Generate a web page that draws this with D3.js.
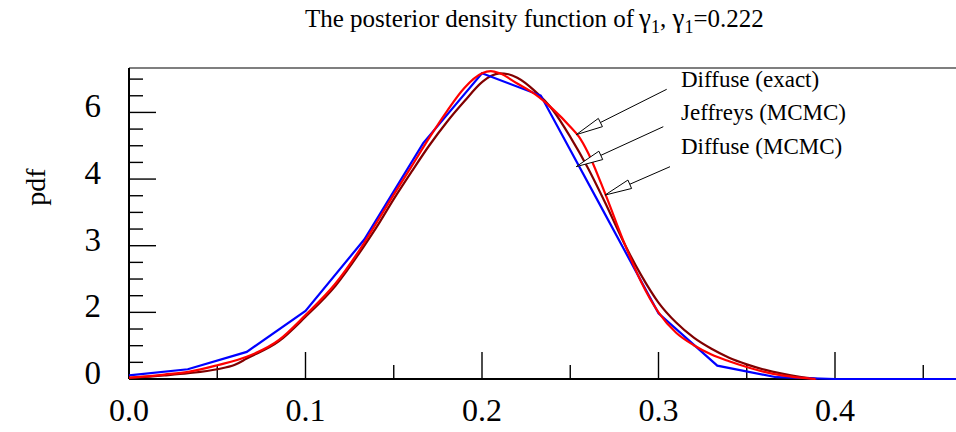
<!DOCTYPE html>
<html>
<head>
<meta charset="utf-8">
<script src="https://cdn.jsdelivr.net/npm/d3@7"></script>
<style>
  html, body { margin: 0; padding: 0; background: #fff; }
  svg { display: block; }
  text { font-family: "Liberation Serif", "Times New Roman", serif; fill: #000; }
</style>
</head>
<body>
<svg id="chart" width="956" height="432"></svg>
<script>
// ---- data ----
const xTickValues = [0, 0.1, 0.2, 0.3, 0.4];
const xTickLabels = ["0.0", "0.1", "0.2", "0.3", "0.4"];
const xMinorTicks = [0.05, 0.15, 0.25, 0.35, 0.45];
const yTickValues = [0, 1.5, 3, 4.5, 6];
const yTickLabels = ["0", "2", "3", "4", "6"];
const yMinorStep = 0.375;

const seriesNames = ["Diffuse (exact)", "Jeffreys (MCMC)", "Diffuse (MCMC)"];

// Diffuse (exact) - red
const redX = [0, 0.02, 0.0336, 0.05, 0.0667, 0.085, 0.1, 0.117, 0.133, 0.14, 0.15, 0.16, 0.17, 0.18, 0.19, 0.2, 0.205, 0.21, 0.22, 0.23, 0.24, 0.25, 0.255, 0.26, 0.27, 0.28, 0.29, 0.3, 0.31, 0.32, 0.33, 0.34, 0.35, 0.36, 0.37, 0.38, 0.389];
const redY = [0.03, 0.10, 0.16, 0.31, 0.50, 0.88, 1.44, 2.15, 3.05, 3.50, 4.15, 4.78, 5.42, 6.02, 6.55, 6.88, 6.93, 6.88, 6.65, 6.41, 6.08, 5.68, 5.45, 5.10, 4.15, 3.12, 2.20, 1.50, 1.04, 0.76, 0.55, 0.40, 0.27, 0.16, 0.08, 0.03, 0.0];

// Jeffreys (MCMC) - blue
const blueX = [0, 0.0333, 0.0667, 0.1, 0.1333, 0.1667, 0.2, 0.2333, 0.2667, 0.3, 0.3333, 0.3667, 0.4, 0.4333, 0.4667, 0.5];
const blueY = [0.08, 0.22, 0.61, 1.53, 3.14, 5.31, 6.88, 6.38, 3.93, 1.48, 0.30, 0.04, 0.0, 0.0, 0.0, 0.0];

// Diffuse (MCMC) - dark red
const brownX = [0, 0.02, 0.0336, 0.05, 0.06, 0.0667, 0.085, 0.1, 0.117, 0.133, 0.14, 0.15, 0.16, 0.17, 0.18, 0.19, 0.2, 0.205, 0.21, 0.215, 0.22, 0.23, 0.24, 0.25, 0.26, 0.27, 0.28, 0.29, 0.3, 0.31, 0.32, 0.33, 0.34, 0.35, 0.36, 0.37, 0.38, 0.39];
const brownY = [0.02, 0.08, 0.13, 0.22, 0.32, 0.46, 0.85, 1.40, 2.10, 2.98, 3.40, 4.05, 4.66, 5.25, 5.78, 6.25, 6.68, 6.82, 6.88, 6.86, 6.78, 6.48, 6.06, 5.45, 4.75, 3.95, 3.10, 2.35, 1.72, 1.27, 0.93, 0.68, 0.48, 0.33, 0.21, 0.12, 0.05, 0.0];

// ---- layout ----
const svg = d3.select("#chart");
const plotLeft = 129, plotTop = 68, plotBottom = 379;
const x = d3.scaleLinear().domain([0, 0.5]).range([plotLeft, plotLeft + 882.5]);
const y = d3.scaleLinear().domain([0, 7]).range([plotBottom, plotTop]);

const g = svg.append("g");

// frame top line
g.append("line").attr("x1", plotLeft).attr("x2", 956).attr("y1", plotTop).attr("y2", plotTop)
  .attr("stroke", "#000").attr("stroke-width", 1.2);

// y ticks (inward)
const yMinor = d3.range(0, 7 + 1e-9, yMinorStep).filter(v => !yTickValues.some(t => Math.abs(t - v) < 1e-9));
g.selectAll(".yminor").data(yMinor).enter().append("line")
  .attr("x1", plotLeft).attr("x2", plotLeft + 14)
  .attr("y1", d => y(d)).attr("y2", d => y(d))
  .attr("stroke", "#000").attr("stroke-width", 1.4);
g.selectAll(".ymajor").data(yTickValues).enter().append("line")
  .attr("x1", plotLeft).attr("x2", plotLeft + 27)
  .attr("y1", d => y(d)).attr("y2", d => y(d))
  .attr("stroke", "#000").attr("stroke-width", 1.4);
g.selectAll(".ylab").data(yTickValues).enter().append("text")
  .attr("x", 101).attr("y", d => y(d) + 5)
  .attr("text-anchor", "end").attr("font-size", 33)
  .text((d, i) => yTickLabels[i]);

// x ticks (inward)
g.selectAll(".xminor").data(xMinorTicks).enter().append("line")
  .attr("x1", d => x(d)).attr("x2", d => x(d))
  .attr("y1", plotBottom).attr("y2", plotBottom - 14)
  .attr("stroke", "#000").attr("stroke-width", 1.4);
g.selectAll(".xmajor").data(xTickValues).enter().append("line")
  .attr("x1", d => x(d)).attr("x2", d => x(d))
  .attr("y1", plotBottom).attr("y2", plotBottom - 27)
  .attr("stroke", "#000").attr("stroke-width", 1.4);
g.selectAll(".xlab").data(xTickValues).enter().append("text")
  .attr("x", d => x(d)).attr("y", 421)
  .attr("text-anchor", "middle").attr("font-size", 32)
  .text((d, i) => xTickLabels[i]);

// axes lines
g.append("line").attr("x1", plotLeft).attr("x2", plotLeft).attr("y1", plotTop).attr("y2", plotBottom)
  .attr("stroke", "#000").attr("stroke-width", 2);
g.append("line").attr("x1", plotLeft).attr("x2", 956).attr("y1", plotBottom).attr("y2", plotBottom)
  .attr("stroke", "#000").attr("stroke-width", 2);

// curves
const smooth = d3.line().x(d => x(d[0])).y(d => y(d[1])).curve(d3.curveMonotoneX);
const straight = d3.line().x(d => x(d[0])).y(d => y(d[1]));
const zip = (a, b) => a.map((v, i) => [v, b[i]]);

g.append("path").attr("d", smooth(zip(brownX, brownY)))
  .attr("fill", "none").attr("stroke", "#800000").attr("stroke-width", 2.2);
g.append("path").attr("d", straight(zip(blueX, blueY)))
  .attr("fill", "none").attr("stroke", "#0000ff").attr("stroke-width", 2.2);
g.append("path").attr("d", smooth(zip(redX, redY)))
  .attr("fill", "none").attr("stroke", "#ff0000").attr("stroke-width", 2.2);

// labels
const labelX = 681;
const labelBase = [87, 120, 154];
g.selectAll(".lab").data(seriesNames).enter().append("text")
  .attr("x", labelX).attr("y", (d, i) => labelBase[i])
  .attr("font-size", 23).text(d => d);

// arrows (tail -> tip)
const arrows = [
  { tail: [666.7, 89.3], tipX: 0.2534, tipV: 5.50 },
  { tail: [663.3, 126.7], tipX: 0.2534, tipV: 4.78 },
  { tail: [670, 166.7], tipX: 0.2697, tipV: 4.14 }
];
arrows.forEach(a => {
  const tx = x(a.tipX), ty = y(a.tipV);
  const dx = a.tail[0] - tx, dy = a.tail[1] - ty;
  const len = Math.hypot(dx, dy);
  const ux = dx / len, uy = dy / len;
  const hl = 27, hw = 4.6;
  const bx = tx + ux * hl, by = ty + uy * hl;
  g.append("line").attr("x1", a.tail[0]).attr("y1", a.tail[1]).attr("x2", bx).attr("y2", by)
    .attr("stroke", "#000").attr("stroke-width", 1);
  const pts = [[tx, ty], [bx - uy * hw, by + ux * hw], [bx + uy * hw, by - ux * hw]];
  g.append("polygon").attr("points", pts.map(p => p.join(",")).join(" "))
    .attr("fill", "#fff").attr("stroke", "#000").attr("stroke-width", 1);
});

// y axis title
g.append("text").attr("transform", "translate(45,187) rotate(-90)")
  .attr("text-anchor", "middle").attr("font-size", 28).text("pdf");

// title
const title = g.append("text").attr("x", 305).attr("y", 27).attr("font-size", 25);
title.append("tspan").text("The posterior density function of\u2009");
title.append("tspan").attr("font-size", 27).text("\u03b3");
title.append("tspan").attr("font-size", 18).attr("dy", 6).text("1");
title.append("tspan").attr("dy", -6).text(", ");
title.append("tspan").attr("font-size", 27).text("\u03b3");
title.append("tspan").attr("font-size", 18).attr("dy", 6).text("1");
title.append("tspan").attr("dy", -6).text("=0.222");
</script>
</body>
</html>
